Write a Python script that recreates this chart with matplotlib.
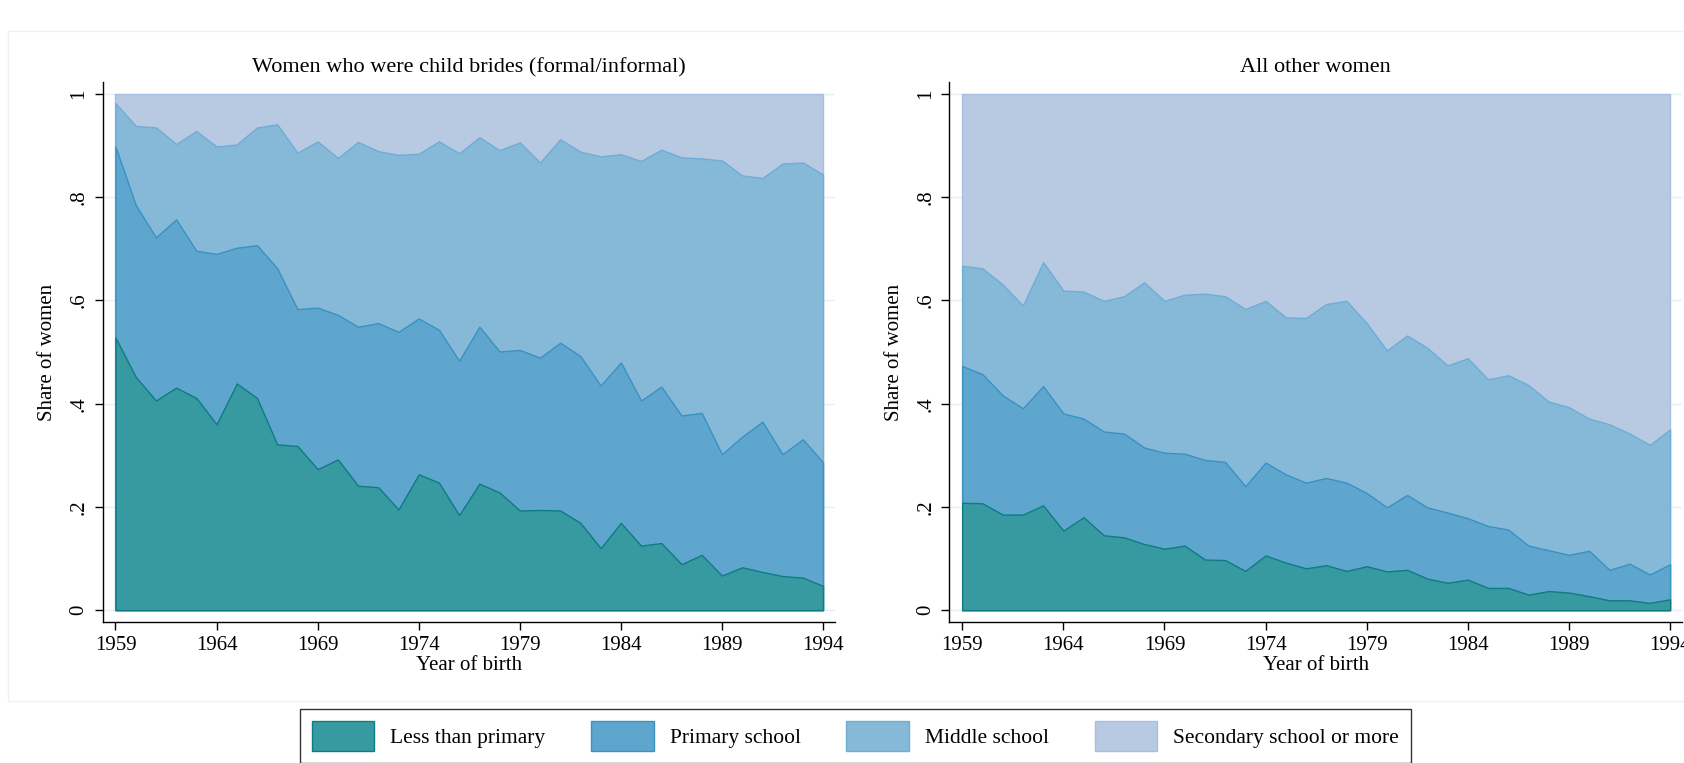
import numpy as np
import matplotlib
matplotlib.use("Agg")
import matplotlib.pyplot as plt
from matplotlib.patches import Rectangle

plt.rcParams['font.family'] = ['Liberation Serif', 'DejaVu Serif']

years = np.arange(1959, 1995)

# child brides: upper edge of each band (stacked shares)
cb_less = [0.528, 0.452, 0.406, 0.431, 0.411, 0.360, 0.439, 0.411, 0.321, 0.318,
           0.273, 0.292, 0.241, 0.238, 0.195, 0.263, 0.247, 0.184, 0.245, 0.228,
           0.193, 0.194, 0.193, 0.169, 0.120, 0.169, 0.125, 0.130, 0.089, 0.107,
           0.067, 0.083, 0.074, 0.066, 0.063, 0.047]
cb_primary = [0.898, 0.785, 0.722, 0.757, 0.696, 0.690, 0.702, 0.707, 0.662, 0.583,
              0.586, 0.572, 0.549, 0.556, 0.539, 0.565, 0.543, 0.483, 0.549, 0.501,
              0.504, 0.489, 0.518, 0.492, 0.435, 0.480, 0.406, 0.433, 0.377, 0.382,
              0.302, 0.336, 0.365, 0.302, 0.331, 0.286]
cb_middle = [0.982, 0.938, 0.935, 0.903, 0.928, 0.898, 0.902, 0.935, 0.941, 0.886,
             0.908, 0.876, 0.907, 0.889, 0.882, 0.884, 0.908, 0.885, 0.916, 0.891,
             0.906, 0.867, 0.912, 0.888, 0.879, 0.883, 0.870, 0.892, 0.877, 0.875,
             0.871, 0.842, 0.837, 0.865, 0.867, 0.844]

# all other women
ot_less = [0.208, 0.207, 0.185, 0.185, 0.203, 0.154, 0.180, 0.145, 0.141, 0.128,
           0.119, 0.125, 0.098, 0.097, 0.076, 0.106, 0.092, 0.081, 0.087, 0.076,
           0.085, 0.075, 0.078, 0.061, 0.053, 0.059, 0.043, 0.043, 0.030, 0.037,
           0.034, 0.027, 0.019, 0.019, 0.014, 0.021]
ot_primary = [0.473, 0.457, 0.416, 0.391, 0.434, 0.381, 0.371, 0.346, 0.342, 0.315,
              0.305, 0.303, 0.291, 0.287, 0.240, 0.286, 0.263, 0.247, 0.256, 0.247,
              0.227, 0.199, 0.223, 0.199, 0.189, 0.178, 0.163, 0.156, 0.125, 0.116,
              0.107, 0.115, 0.078, 0.090, 0.069, 0.089]
ot_middle = [0.667, 0.662, 0.631, 0.590, 0.674, 0.619, 0.617, 0.599, 0.608, 0.635,
             0.599, 0.611, 0.613, 0.608, 0.583, 0.599, 0.567, 0.566, 0.593, 0.599,
             0.556, 0.503, 0.532, 0.508, 0.474, 0.488, 0.447, 0.455, 0.436, 0.404,
             0.393, 0.371, 0.360, 0.342, 0.320, 0.350]

labels = ['Less than primary', 'Primary school', 'Middle school', 'Secondary school or more']
fills = ['#369AA0', '#5EA6CE', '#86B9D8', '#B8C9E2']
edges = ['#0E7C82', '#3A91C2', '#6EADD6', '#A6BEDF']

xticks = [1959, 1964, 1969, 1974, 1979, 1984, 1989, 1994]
yticks = [0, 0.2, 0.4, 0.6, 0.8, 1.0]
ytick_labels = ['0', '.2', '.4', '.6', '.8', '1']

fig = plt.figure(figsize=(16.84, 7.63), dpi=100)
fig.patches.append(Rectangle((8 / 1684, 1 - 701 / 763), 1.0, (701 - 31) / 763,
                             transform=fig.transFigure, fill=False,
                             edgecolor='#EEF1F4', lw=1))

ax1 = fig.add_axes([0.0609, 0.1848, 0.4349, 0.7077])
ax2 = fig.add_axes([0.5637, 0.1848, 0.4351, 0.7077])


def draw_panel(ax, less, primary, middle, title):
    ones = np.ones(len(years))
    tops = [np.array(less), np.array(primary), np.array(middle), ones]
    handles = []
    for i in [3, 2, 1, 0]:
        h = ax.fill_between(years, 0, tops[i], facecolor=fills[i], edgecolor=edges[i],
                            lw=1.0, zorder=2, label=labels[i])
        handles.append(h)
    ax.set_xlim(1958.36, 1994.59)
    ax.set_ylim(-0.023, 1.023)
    ax.set_xticks(xticks)
    ax.set_yticks(yticks)
    ax.set_yticklabels(ytick_labels, rotation=90, va='center')
    ax.grid(axis='y', color='#E6EEF2', lw=1, zorder=0)
    for s in ['top', 'right']:
        ax.spines[s].set_visible(False)
    for s in ['left', 'bottom']:
        ax.spines[s].set_color('black')
        ax.spines[s].set_linewidth(1.0)
    ax.tick_params(axis='both', length=6, width=1, labelsize=15, pad=4)
    ax.set_xlabel('Year of birth', fontsize=15, labelpad=1)
    ax.set_ylabel('Share of women', fontsize=15, labelpad=9)
    ax.set_title(title, fontsize=16, pad=7)
    return handles[::-1]


h = draw_panel(ax1, cb_less, cb_primary, cb_middle,
               'Women who were child brides (formal/informal)')
draw_panel(ax2, ot_less, ot_primary, ot_middle, 'All other women')

leg = fig.legend(h, labels, loc='upper center', bbox_to_anchor=(0.508, 1 - 709 / 763),
                 ncol=4, fontsize=15.5, frameon=True, fancybox=False,
                 handlelength=2.9, handleheight=1.78, handletextpad=0.75,
                 columnspacing=2.12, borderpad=0.55, borderaxespad=0)
leg.get_frame().set_edgecolor('black')
leg.get_frame().set_linewidth(1.0)

fig.savefig('out.png', dpi=100)
